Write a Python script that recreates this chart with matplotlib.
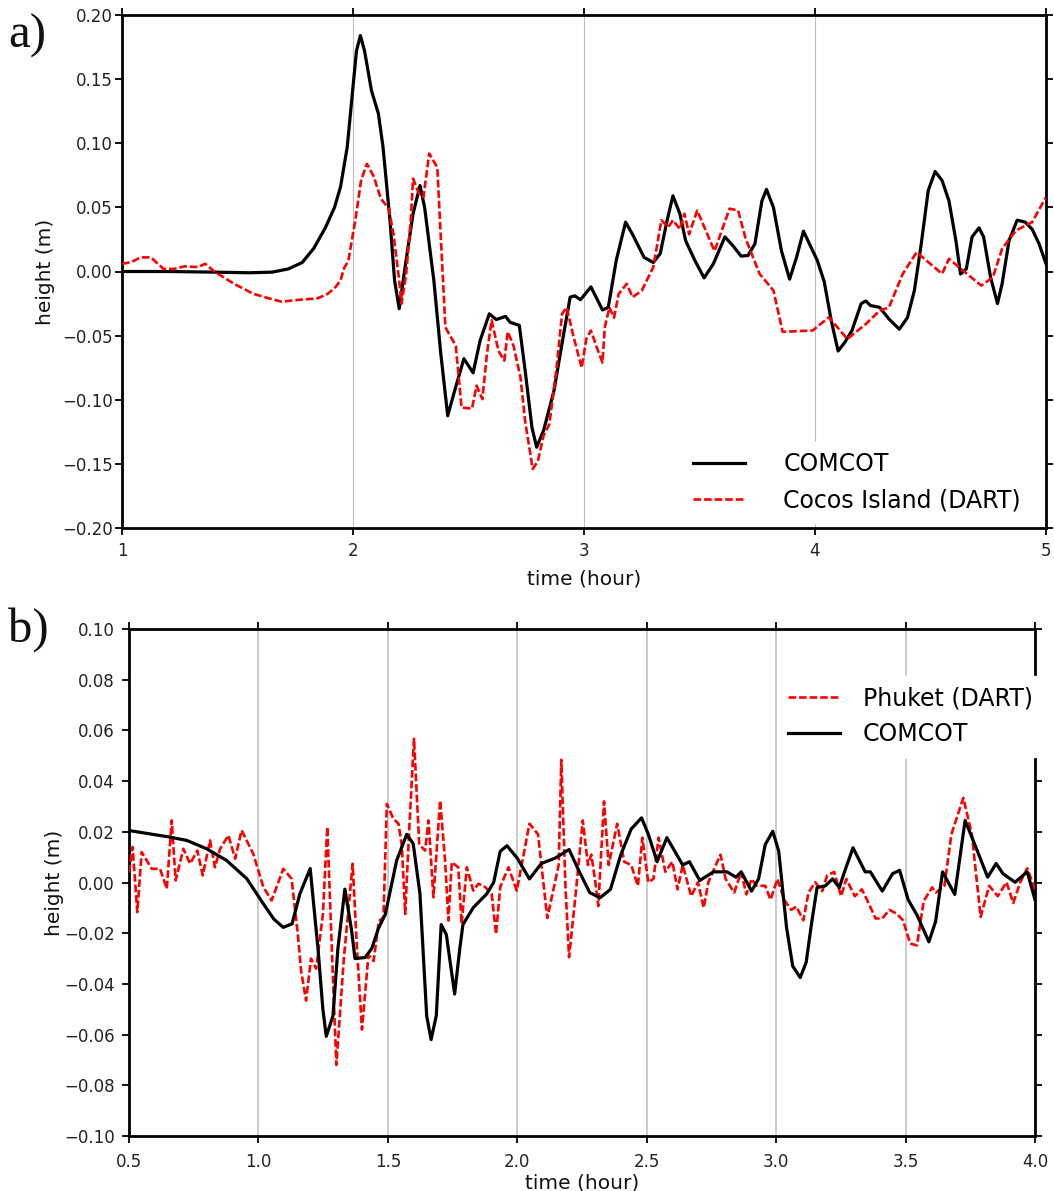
import matplotlib
matplotlib.use("Agg")
import matplotlib.pyplot as plt
from matplotlib.ticker import FuncFormatter

plt.rcParams['font.family'] = ['DejaVu Sans']

# ---------------- Panel a data (Cocos Island) ----------------
t_a_comcot = [1.00, 1.20, 1.40, 1.55, 1.65, 1.72, 1.78, 1.83, 1.88, 1.92, 1.946, 1.975,
              2.00, 2.015, 2.032, 2.05, 2.08, 2.11, 2.13, 2.16, 2.18, 2.20, 2.23, 2.26, 2.29, 2.31,
              2.35, 2.38, 2.41, 2.44, 2.48, 2.52, 2.55, 2.59, 2.62, 2.66, 2.68, 2.72,
              2.745, 2.775, 2.795, 2.825, 2.87, 2.905, 2.94, 2.96, 2.985, 3.03, 3.08,
              3.105, 3.14, 3.18, 3.21, 3.26, 3.30, 3.33, 3.36, 3.385, 3.415, 3.44, 3.48,
              3.52, 3.56, 3.61, 3.645, 3.68, 3.71, 3.74, 3.77, 3.79, 3.82, 3.855, 3.89,
              3.92, 3.95, 3.98, 4.01, 4.04, 4.07, 4.10, 4.13, 4.16, 4.20, 4.22, 4.24,
              4.28, 4.32, 4.365, 4.40, 4.43, 4.46, 4.49, 4.52, 4.55, 4.58, 4.61, 4.63,
              4.655, 4.68, 4.71, 4.73, 4.76, 4.79, 4.81, 4.84, 4.875, 4.91, 4.94, 4.97,
              5.00]
h_a_comcot = [0.000, 0.000, -0.0005, -0.001, -0.0005, 0.002, 0.007, 0.018, 0.034, 0.050,
              0.066, 0.097, 0.144, 0.172, 0.184, 0.172, 0.141, 0.123, 0.097, 0.040, -0.007, -0.029,
              0.009, 0.045, 0.067, 0.050, -0.007, -0.064, -0.1125, -0.093, -0.068, -0.079,
              -0.054, -0.033, -0.0375, -0.035, -0.0396, -0.042, -0.077, -0.122, -0.137,
              -0.124, -0.093, -0.056, -0.020, -0.019, -0.022, -0.012, -0.030, -0.028,
              0.009, 0.0385, 0.029, 0.011, 0.007, 0.014, 0.040, 0.059, 0.045, 0.024,
              0.0086, -0.005, 0.006, 0.027, 0.020, 0.012, 0.0125, 0.0216, 0.055, 0.064,
              0.050, 0.016, -0.006, 0.011, 0.0315, 0.020, 0.0086, -0.008, -0.038, -0.062,
              -0.055, -0.046, -0.025, -0.023, -0.0265, -0.028, -0.037, -0.045, -0.036,
              -0.015, 0.0216, 0.063, 0.078, 0.071, 0.055, 0.024, -0.002, 0.002, 0.027,
              0.034, 0.027, -0.0045, -0.025, -0.0096, 0.024, 0.040, 0.0385, 0.033, 0.0216,
              0.006]

t_a_dart = [1.00, 1.04, 1.08, 1.125, 1.18, 1.225, 1.27, 1.33, 1.36, 1.40, 1.485, 1.57,
            1.63, 1.69, 1.77, 1.845, 1.89, 1.925, 1.946, 1.96, 1.98, 2.01, 2.035, 2.06,
            2.09, 2.12, 2.155, 2.175, 2.20, 2.21, 2.23, 2.25, 2.26, 2.285, 2.305, 2.33,
            2.365, 2.38, 2.40, 2.445, 2.47, 2.515, 2.535, 2.56, 2.58, 2.60, 2.63, 2.655,
            2.67, 2.695, 2.725, 2.745, 2.778, 2.80, 2.825, 2.85, 2.88, 2.905, 2.925,
            2.955, 2.99, 3.01, 3.03, 3.055, 3.08, 3.09, 3.11, 3.13, 3.15, 3.185, 3.21,
            3.25, 3.30, 3.335, 3.365, 3.385, 3.415, 3.435, 3.455, 3.49, 3.565, 3.63,
            3.667, 3.70, 3.76, 3.82, 3.86, 3.99, 4.06, 4.14, 4.22, 4.28, 4.32, 4.38,
            4.44, 4.55, 4.58, 4.64, 4.72, 4.77, 4.81, 4.87, 4.94, 5.00]
h_a_dart = [0.006, 0.0073, 0.011, 0.011, 0.002, 0.002, 0.004, 0.0035, 0.006, 0.000,
            -0.0096, -0.0175, -0.0206, -0.0235, -0.022, -0.021, -0.0175, -0.012, -0.007,
            0.002, 0.0086, 0.040, 0.071, 0.084, 0.074, 0.057, 0.049, 0.0294, -0.007,
            -0.025, -0.002, 0.040, 0.0724, 0.061, 0.058, 0.092, 0.081, 0.027, -0.0435,
            -0.058, -0.106, -0.107, -0.089, -0.0995, -0.064, -0.038, -0.062, -0.0695,
            -0.047, -0.058, -0.0826, -0.1165, -0.154, -0.148, -0.128, -0.119, -0.077,
            -0.033, -0.028, -0.051, -0.075, -0.0526, -0.046, -0.059, -0.071, -0.0435,
            -0.028, -0.036, -0.0175, -0.0096, -0.020, -0.015, 0.0034, 0.040, 0.0346,
            0.040, 0.033, 0.045, 0.029, 0.0476, 0.016, 0.049, 0.0476, 0.0255, -0.0018,
            -0.0148, -0.047, -0.046, -0.0357, -0.0526, -0.041, -0.0305, -0.028, -0.0018,
            0.015, -0.0018, 0.0099, 0.0008, -0.011, -0.0045, 0.0177, 0.032, 0.0385,
            0.058]

# ---------------- Panel b data (Phuket) ----------------
t_b_comcot = [0.50, 0.658, 0.723, 0.80, 0.877, 0.955, 1.019, 1.06, 1.096, 1.13, 1.16,
              1.20, 1.23, 1.249, 1.262, 1.288, 1.307, 1.334, 1.36, 1.373, 1.412, 1.438,
              1.464, 1.49, 1.534, 1.573, 1.598, 1.624, 1.65, 1.667, 1.687, 1.706, 1.726,
              1.758, 1.778, 1.79, 1.83, 1.882, 1.909, 1.934, 1.96, 2.00, 2.047, 2.093,
              2.146, 2.20, 2.24, 2.28, 2.32, 2.36, 2.40, 2.44, 2.48, 2.506, 2.54, 2.578,
              2.639, 2.665, 2.705, 2.758, 2.81, 2.845, 2.865, 2.905, 2.932, 2.958, 2.987,
              3.01, 3.04, 3.064, 3.093, 3.116, 3.136, 3.158, 3.19, 3.218, 3.244, 3.264,
              3.297, 3.324, 3.344, 3.364, 3.41, 3.45, 3.477, 3.51, 3.545, 3.59, 3.616,
              3.643, 3.69, 3.73, 3.77, 3.817, 3.85, 3.876, 3.923, 3.97, 4.00]
h_b_comcot = [0.0205, 0.0179, 0.0166, 0.0133, 0.0087, 0.0015, -0.0084, -0.0145, -0.0177,
              -0.0163, -0.0045, 0.0055, -0.026, -0.050, -0.0607, -0.0526, -0.026, -0.0026,
              -0.019, -0.030, -0.0296, -0.026, -0.018, -0.0126, 0.0087, 0.019, 0.0153,
              -0.0045, -0.0526, -0.062, -0.0526, -0.0166, -0.0206, -0.044, -0.026,
              -0.0166, -0.0099, -0.0045, 0.0001, 0.0123, 0.0145, 0.0096, 0.0014, 0.0075,
              0.0096, 0.013, 0.0042, -0.004, -0.006, -0.0027, 0.011, 0.0211, 0.0255,
              0.0191, 0.0082, 0.0177, 0.0069, 0.0082, 0.0008, 0.0042, 0.0042, 0.0021,
              0.0042, -0.0034, 0.0014, 0.015, 0.0202, 0.0123, -0.0176, -0.033, -0.0375,
              -0.0315, -0.0167, -0.002, -0.0013, 0.0014, -0.002, 0.0042, 0.0137, 0.0082,
              0.0042, 0.0042, -0.0034, 0.0035, 0.0048, -0.0068, -0.013, -0.0234, -0.0154,
              0.0042, -0.0047, 0.0245, 0.0143, 0.0021, 0.0075, 0.0035, 0.0001, 0.0042,
              -0.0068]

t_b_dart = [0.50, 0.514, 0.532, 0.549, 0.588, 0.62, 0.646, 0.665, 0.68, 0.71, 0.736,
            0.764, 0.785, 0.813, 0.832, 0.852, 0.884, 0.91, 0.935, 0.98, 1.019, 1.051,
            1.096, 1.128, 1.151, 1.165, 1.184, 1.203, 1.223, 1.249, 1.266, 1.285, 1.301,
            1.33, 1.364, 1.38, 1.40, 1.425, 1.445, 1.465, 1.483, 1.496, 1.521, 1.541,
            1.554, 1.567, 1.583, 1.601, 1.621, 1.631, 1.644, 1.657, 1.676, 1.702, 1.721,
            1.734, 1.747, 1.772, 1.785, 1.805, 1.83, 1.85, 1.876, 1.901, 1.918, 1.934,
            1.966, 1.998, 2.047, 2.08, 2.116, 2.16, 2.17, 2.186, 2.20, 2.226, 2.253,
            2.273, 2.286, 2.30, 2.313, 2.335, 2.353, 2.386, 2.413, 2.44, 2.466, 2.483,
            2.506, 2.526, 2.546, 2.572, 2.599, 2.619, 2.639, 2.672, 2.698, 2.72, 2.738,
            2.758, 2.785, 2.805, 2.838, 2.865, 2.885, 2.905, 2.925, 2.958, 2.978, 3.005,
            3.031, 3.058, 3.078, 3.105, 3.125, 3.151, 3.178, 3.197, 3.224, 3.251, 3.271,
            3.304, 3.331, 3.357, 3.384, 3.41, 3.437, 3.464, 3.49, 3.518, 3.544, 3.57,
            3.603, 3.617, 3.65, 3.677, 3.723, 3.756, 3.79, 3.823, 3.856, 3.89, 3.916,
            3.943, 3.97, 4.00]
h_b_dart = [0.004, 0.014, -0.0117, 0.012, 0.0054, 0.0054, -0.0025, 0.0245, 0.0008,
            0.0133, 0.0074, 0.0126, 0.0028, 0.0166, 0.006, 0.0133, 0.0186, 0.0094, 0.0206,
            0.0113, -0.0018, -0.0071, 0.0054, 0.0015, -0.0193, -0.035, -0.0466, -0.030,
            -0.034, -0.0126, 0.0219, -0.030, -0.072, -0.030, 0.0074, -0.025, -0.058,
            -0.0286, -0.031, -0.0153, -0.0137, 0.031, 0.0252, 0.0232, 0.0146, -0.0124,
            0.0219, 0.0567, 0.0153, 0.014, 0.0126, 0.0245, -0.0058, 0.0324, 0.0087,
            -0.015, 0.008, 0.006, -0.0163, 0.006, -0.0032, -0.0005, -0.0018, -0.0045,
            -0.0203, -0.0018, 0.006, -0.0032, 0.0232, 0.019, -0.014, 0.0069, 0.0484,
            -0.0013, -0.0295, -0.004, 0.0245, 0.0069, 0.011, 0.0014, -0.0093, 0.032,
            0.0069, 0.0232, 0.0082, 0.0069, -0.0013, 0.0177, 0.0001, 0.0014, 0.0177,
            0.0042, 0.0082, -0.0027, 0.0069, -0.0054, 0.0001, -0.010, 0.0001, 0.0048,
            0.011, 0.0014, -0.004, 0.0042, -0.0047, 0.0014, -0.0013, -0.0013, -0.0068,
            0.0014, -0.0068, -0.0108, -0.0095, -0.0149, -0.004, 0.0001, -0.0034, 0.0028,
            0.0042, -0.0054, 0.0014, -0.0054, -0.0027, -0.0081, -0.0142, -0.0142,
            -0.0108, -0.0122, -0.0149, -0.0241, -0.0248, -0.0073, -0.0019, -0.004,
            -0.0013, 0.019, 0.0334, 0.019, -0.0136, -0.0013, -0.0054, 0.0001, -0.0081,
            0.0001, 0.0056, -0.0027]

xticks_a = [1, 2, 3, 4, 5]
yticks_a = [-0.20, -0.15, -0.10, -0.05, 0.00, 0.05, 0.10, 0.15, 0.20]
xticks_b = [0.5, 1.0, 1.5, 2.0, 2.5, 3.0, 3.5, 4.0]
yticks_b = [-0.10, -0.08, -0.06, -0.04, -0.02, 0.00, 0.02, 0.04, 0.06, 0.08, 0.10]

W, H = 1054, 1191
fig = plt.figure(figsize=(W / 100, H / 100), dpi=100)

def frac(l, t, r, b):
    return [l / W, 1 - b / H, (r - l) / W, (b - t) / H]

def fmt(spec):
    def f(v, pos):
        s = spec % v
        if s.startswith('-') and float(s) == 0:
            s = s[1:]
        return s.replace('-', '\u2212')
    return FuncFormatter(f)

ax_a = fig.add_axes(frac(122, 15, 1046, 528))
ax_b = fig.add_axes(frac(129, 629, 1035, 1136))

red = '#ff0000'
dash = (0, (2.9, 1.1))

ax_a.plot(t_a_comcot, h_a_comcot, color='black', lw=2.3, label='COMCOT', zorder=3)
ax_a.plot(t_a_dart, h_a_dart, color=red, lw=1.9, ls=dash, label='Cocos Island (DART)', zorder=3)

ax_b.plot(t_b_dart, h_b_dart, color=red, lw=1.9, ls=dash, label='Phuket (DART)', zorder=3)
ax_b.plot(t_b_comcot, h_b_comcot, color='black', lw=2.3, label='COMCOT', zorder=3)

for ax, xt, yt, xl, yl, xfmt, yfmt, gridc, gridw in [
        (ax_a, xticks_a, yticks_a, (1, 5), (-0.20, 0.20), '%d', '%.2f', '#bdbdbd', 0.8),
        (ax_b, xticks_b, yticks_b, (0.5, 4.0), (-0.10, 0.10), '%.1f', '%.2f', '#c4c4c4', 1.2)]:
    ax.set_xlim(*xl)
    ax.set_ylim(*yl)
    ax.set_xticks(xt)
    ax.set_yticks(yt)
    ax.xaxis.set_major_formatter(fmt(xfmt))
    ax.yaxis.set_major_formatter(fmt(yfmt))
    ax.grid(axis='x', color=gridc, lw=gridw, zorder=0)
    ax.set_axisbelow(True)
    for s in ax.spines.values():
        s.set_linewidth(2.0)
        s.set_color('black')
    ax.tick_params(direction='out', length=5, width=1.3, top=True, right=True,
                   labeltop=False, labelright=False, labelsize=12, colors='black',
                   labelcolor='#222222')
    ax.set_xlabel('time (hour)', fontsize=14.5, color='#111111')
    ax.set_ylabel('height (m)', fontsize=14.5, color='#111111')

ax_a.tick_params(axis='y', pad=1.5)
ax_a.tick_params(axis='x', pad=5)
ax_b.tick_params(axis='y', pad=5)
ax_b.tick_params(axis='x', pad=7)

ax_a.yaxis.set_label_coords(-0.072, 0.5)
ax_b.yaxis.set_label_coords(-0.072, 0.5)
ax_a.xaxis.set_label_coords(0.5, -0.080)
ax_b.xaxis.set_label_coords(0.5, -0.074)

leg_a = ax_a.legend(loc='upper left', bbox_to_anchor=(0.607, 0.168), fontsize=17,
                    frameon=True, facecolor='white', edgecolor='white', framealpha=1,
                    fancybox=False, handlelength=2.2, handletextpad=1.6,
                    labelspacing=0.5, borderpad=0.45, borderaxespad=0)
leg_b = ax_b.legend(loc='upper left', bbox_to_anchor=(0.716, 0.908), fontsize=17,
                    frameon=True, facecolor='white', edgecolor='white', framealpha=1,
                    fancybox=False, handlelength=2.2, handletextpad=0.95,
                    labelspacing=0.5, borderpad=0.45, borderaxespad=0)
leg_b.set_zorder(10)
leg_b.set_clip_on(False)

fig.text(8 / W, 1 - 14 / H, 'a)', family=['Liberation Serif', 'DejaVu Serif'],
         fontsize=35, va='top', ha='left', color='#111111')
fig.text(8 / W, 1 - 607 / H, 'b)', family=['Liberation Serif', 'DejaVu Serif'],
         fontsize=35, va='top', ha='left', color='#111111')

fig.savefig('out.png', dpi=100)
